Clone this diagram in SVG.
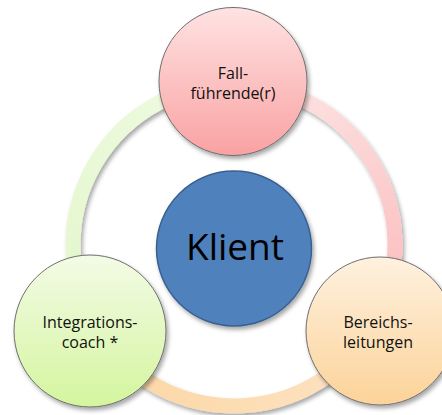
<svg xmlns="http://www.w3.org/2000/svg" width="442" height="415" viewBox="0 0 442 415">
<defs>
<filter id="sh" x="-20%" y="-20%" width="140%" height="140%">
<feDropShadow dx="2" dy="3" stdDeviation="2" flood-color="#000" flood-opacity="0.35"/>
</filter>
<linearGradient id="gPinkArc" gradientUnits="userSpaceOnUse" x1="234" y1="84" x2="373" y2="325">
<stop offset="0" stop-color="#fde6e6"/><stop offset="1" stop-color="#fbbcbd"/>
</linearGradient>
<linearGradient id="gOrArc" gradientUnits="userSpaceOnUse" x1="373" y1="325" x2="95" y2="325">
<stop offset="0" stop-color="#fde3c2"/><stop offset="1" stop-color="#fcd6a4"/>
</linearGradient>
<linearGradient id="gGrArc" gradientUnits="userSpaceOnUse" x1="95" y1="325" x2="234" y2="84">
<stop offset="0" stop-color="#e4f7cc"/><stop offset="1" stop-color="#eefae1"/>
</linearGradient>
<linearGradient id="gPink" x1="0" y1="0" x2="0" y2="1">
<stop offset="0" stop-color="#ffe2e2"/><stop offset="1" stop-color="#f9a2a2"/>
</linearGradient>
<linearGradient id="gGreen" x1="0" y1="0" x2="0" y2="1">
<stop offset="0" stop-color="#f3fbe6"/><stop offset="1" stop-color="#d4f59e"/>
</linearGradient>
<linearGradient id="gPeach" x1="0" y1="0" x2="0" y2="1">
<stop offset="0" stop-color="#fef1df"/><stop offset="1" stop-color="#fcd399"/>
</linearGradient>
</defs>
<style>
.arc{fill:none;stroke-width:15;filter:url(#sh)}
.outer{stroke:#6e6e6e;stroke-width:1;filter:url(#sh)}
.lbl{font-family:"Open Sans","Liberation Sans",sans-serif;font-size:16px;fill:#111;text-anchor:middle}
.big{font-family:"Open Sans","Liberation Sans",sans-serif;font-size:37px;fill:#000;text-anchor:middle}
</style>
<g id="connectors">
<path class="arc" stroke="url(#gPinkArc)" d="M 234 84 A 161 161 0 0 1 373.4 325.5"/>
<path class="arc" stroke="url(#gOrArc)" d="M 373.4 325.5 A 161 161 0 0 1 94.6 325.5"/>
<path class="arc" stroke="url(#gGrArc)" d="M 94.6 325.5 A 161 161 0 0 1 234 84"/>
</g>
<g id="node-fall">
<circle class="outer" cx="233" cy="81.5" r="74" fill="url(#gPink)"/>
<text class="lbl" x="233" y="79">Fall-</text>
<text class="lbl" x="233" y="99">führende(r)</text>
</g>
<g id="node-integration">
<circle class="outer" cx="90" cy="331" r="76" fill="url(#gGreen)"/>
<text class="lbl" x="90" y="328">Integrations-</text>
<text class="lbl" x="90" y="348">coach *</text>
</g>
<g id="node-bereich">
<circle class="outer" cx="380" cy="331" r="74" fill="url(#gPeach)"/>
<text class="lbl" x="378" y="328">Bereichs-</text>
<text class="lbl" x="378" y="348">leitungen</text>
</g>
<g id="node-klient">
<circle cx="234" cy="248.5" r="77.5" fill="#4f81bd" stroke="#3a6190" stroke-width="1.5" filter="url(#sh)"/>
<text class="big" x="235" y="260">Klient</text>
</g>
</svg>
